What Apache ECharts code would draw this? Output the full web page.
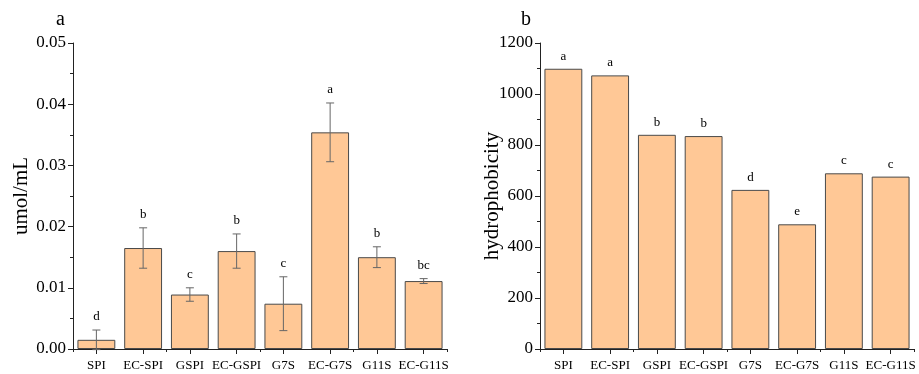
<!DOCTYPE html>
<html><head><meta charset="utf-8">
<script src="https://cdn.jsdelivr.net/npm/echarts@6/dist/echarts.min.js"></script>
<style>html,body{margin:0;padding:0;background:#fff}#c{width:919px;height:374px}</style>
</head><body><div id="c"></div>
<script>
var categories = ['SPI','EC-SPI','GSPI','EC-GSPI','G7S','EC-G7S','G11S','EC-G11S'];
var leftValues = [0.0015, 0.0165, 0.0089, 0.0160, 0.0074, 0.0354, 0.0150, 0.0111];
var leftErrors = [0.0016, 0.0033, 0.0011, 0.0028, 0.0044, 0.0048, 0.0017, 0.0004];
var leftLetters = ['d','b','c','b','c','a','b','bc'];
var rightValues = [1099, 1073, 840, 835, 624, 489, 689, 676];
var rightLetters = ['a','a','b','b','d','e','c','c'];
var leftTicks = [0, 0.01, 0.02, 0.03, 0.04, 0.05];
var rightTicks = [0, 200, 400, 600, 800, 1000, 1200];

var FONT = 'Liberation Serif';
var barColor = '#FFC896';
var chart = echarts.init(document.getElementById('c'));

function catAxis(gi) {
  return [{
    type: 'category', gridIndex: gi, data: categories,
    axisLine: {lineStyle: {color: '#222', width: 1}},
    axisTick: {show: true, alignWithLabel: true, length: 5, lineStyle: {color: '#222'}},
    axisLabel: {color: '#000', fontFamily: FONT, fontSize: 13, margin: 10, interval: 0}
  }, {
    type: 'category', gridIndex: gi, data: categories, position: 'bottom',
    axisLine: {show: false},
    axisTick: {show: true, alignWithLabel: false, length: 3, lineStyle: {color: '#222'}},
    axisLabel: {show: false}
  }];
}
function valAxis(gi, max, interval, name, nameGap, fmt) {
  return {
    type: 'value', gridIndex: gi, min: 0, max: max, interval: interval,
    name: name, nameLocation: 'middle', nameGap: nameGap, nameMoveOverlap: false,
    nameTextStyle: {fontFamily: FONT, fontSize: 21, color: '#000'},
    axisLine: {show: true, lineStyle: {color: '#222', width: 1}},
    axisTick: {show: true, inside: false, length: 5, lineStyle: {color: '#222'}},
    minorTick: {show: true, splitNumber: 2, length: 3, lineStyle: {color: '#222'}},
    splitLine: {show: false},
    axisLabel: {color: '#000', fontFamily: FONT, fontSize: 17, margin: 7, formatter: fmt}
  };
}

var xAxes = catAxis(0).concat(catAxis(1));

chart.setOption({
  animation: false,
  title: [
    {text: 'a', left: 51, top: 5, textStyle: {fontFamily: FONT, fontSize: 20, fontWeight: 'normal', color: '#000'}},
    {text: 'b', left: 516, top: 5, textStyle: {fontFamily: FONT, fontSize: 20, fontWeight: 'normal', color: '#000'}}
  ],
  grid: [
    {left: 73, right: 472, top: 43, bottom: 25},
    {left: 540, right: 5, top: 43, bottom: 25}
  ],
  xAxis: xAxes,
  yAxis: [
    valAxis(0, 0.05, 0.01, 'umol/mL', 41, function (v) { return v.toFixed(2); }),
    valAxis(1, 1200, 200, 'hydrophobicity', 37, function (v) { return String(v); })
  ],
  series: [
    {
      type: 'bar', xAxisIndex: 0, yAxisIndex: 0, data: leftValues, barWidth: '81%',
      itemStyle: {color: barColor, borderColor: '#4a4a4a', borderWidth: 1}
    },
    {
      type: 'custom', xAxisIndex: 0, yAxisIndex: 0,
      data: leftValues.map(function (v, i) { return [i, v, leftErrors[i]]; }),
      renderItem: function (params, api) {
        var i = api.value(0), v = api.value(1), e = api.value(2);
        var top = api.coord([i, v + e]);
        var bot = api.coord([i, v - e]);
        var cw = 4;
        return {
          type: 'group',
          children: [
            {type: 'line', shape: {x1: top[0], y1: top[1], x2: bot[0], y2: bot[1]}, style: {stroke: '#666', lineWidth: 1}},
            {type: 'line', shape: {x1: top[0] - cw, y1: top[1], x2: top[0] + cw, y2: top[1]}, style: {stroke: '#666', lineWidth: 1}},
            {type: 'line', shape: {x1: bot[0] - cw, y1: bot[1], x2: bot[0] + cw, y2: bot[1]}, style: {stroke: '#666', lineWidth: 1}},
            {type: 'text', style: {text: leftLetters[params.dataIndex], x: top[0], y: top[1] - 7, textAlign: 'center', textVerticalAlign: 'bottom', fontFamily: FONT, fontSize: 13, fill: '#000'}}
          ]
        };
      },
      z: 5
    },
    {
      type: 'bar', xAxisIndex: 2, yAxisIndex: 1, data: rightValues, barWidth: '81%',
      itemStyle: {color: barColor, borderColor: '#4a4a4a', borderWidth: 1},
      label: {show: true, position: 'top', distance: 6, fontFamily: FONT, fontSize: 13, color: '#000',
        formatter: function (p) { return rightLetters[p.dataIndex]; }}
    }
  ]
});
</script></body></html>
